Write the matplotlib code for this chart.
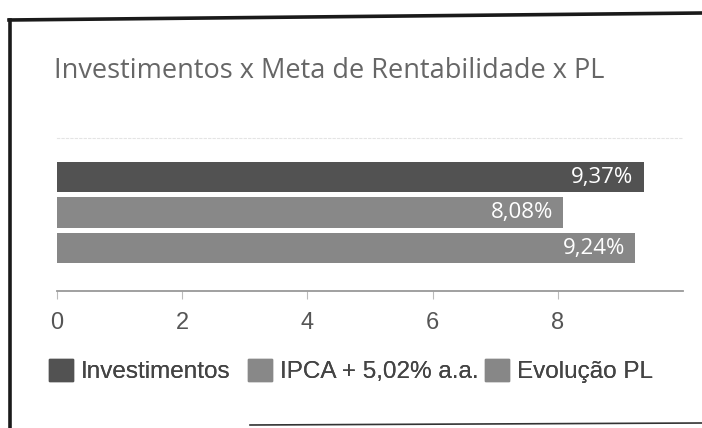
import matplotlib.pyplot as plt
from matplotlib.lines import Line2D
from matplotlib.patches import Patch

# data
series = ['Investimentos', 'IPCA + 5,02% a.a.', 'Evolução PL']
values = [9.37, 8.08, 9.24]
value_labels = ['9,37%', '8,08%', '9,24%']
colors = ['#525252', '#888888', '#878787']
xticks = [0, 2, 4, 6, 8]

W, H = 702, 428
fig = plt.figure(figsize=(W / 100, H / 100), dpi=100)
fig.patch.set_facecolor('white')

def fx(px):
    return px / W

def fy(py):
    return 1 - py / H

# scanned frame
fig.add_artist(Line2D([fx(9), fx(702)], [fy(20), fy(13)], color='#1a1a1a', lw=2.6))
fig.add_artist(Line2D([fx(10), fx(10)], [fy(20), fy(428)], color='#1a1a1a', lw=2.6))
fig.add_artist(Line2D([fx(250), fx(702)], [fy(425), fy(423)], color='#333333', lw=1.2))

fig.text(fx(54), fy(78), 'Investimentos x Meta de Rentabilidade x PL',
         fontsize=19.5, color='#666666', family='Open Sans', va='baseline', ha='left')

ax = fig.add_axes([fx(57), fy(291), fx(683) - fx(57), (291 - 138) / H])
ypos = list(range(len(values)))
ax.barh(ypos, values, height=0.87, color=colors)
for y, v, lab in zip(ypos, values, value_labels):
    ax.text(v - 0.16, y, lab, color='white', fontsize=16, family='Open Sans',
            ha='right', va='center')

ax.set_xlim(0, 10)
ax.set_ylim(3.21, -1.10)
ax.set_yticks([])
ax.set_xticks(xticks)
ax.set_xticklabels([str(t) for t in xticks], fontsize=17, color='#555555',
                   family='Liberation Sans')
ax.tick_params(axis='x', length=6, color='#bbbbbb', pad=9, direction='out')
for side in ['left', 'right']:
    ax.spines[side].set_visible(False)
ax.spines['top'].set_color('#e4e4e4')
ax.spines['top'].set_linestyle((0, (2, 2)))
ax.spines['bottom'].set_color('#999999')
ax.spines['bottom'].set_linewidth(1.3)

# legend entries placed one by one, like the original
leg_x = [49, 248, 485]
for name, c, lx in zip(series, colors, leg_x):
    leg = fig.legend([Patch(facecolor=c, edgecolor=c)], [name], loc='center left',
                     bbox_to_anchor=(fx(lx), fy(371)), frameon=False,
                     borderpad=0, borderaxespad=0, handlelength=1.0,
                     handleheight=1.0, handletextpad=0.3,
                     prop={'family': 'Liberation Sans', 'size': 17.5},
                     labelcolor='#444444')
    fig.add_artist(leg)

fig.savefig('out.png', dpi=100)
